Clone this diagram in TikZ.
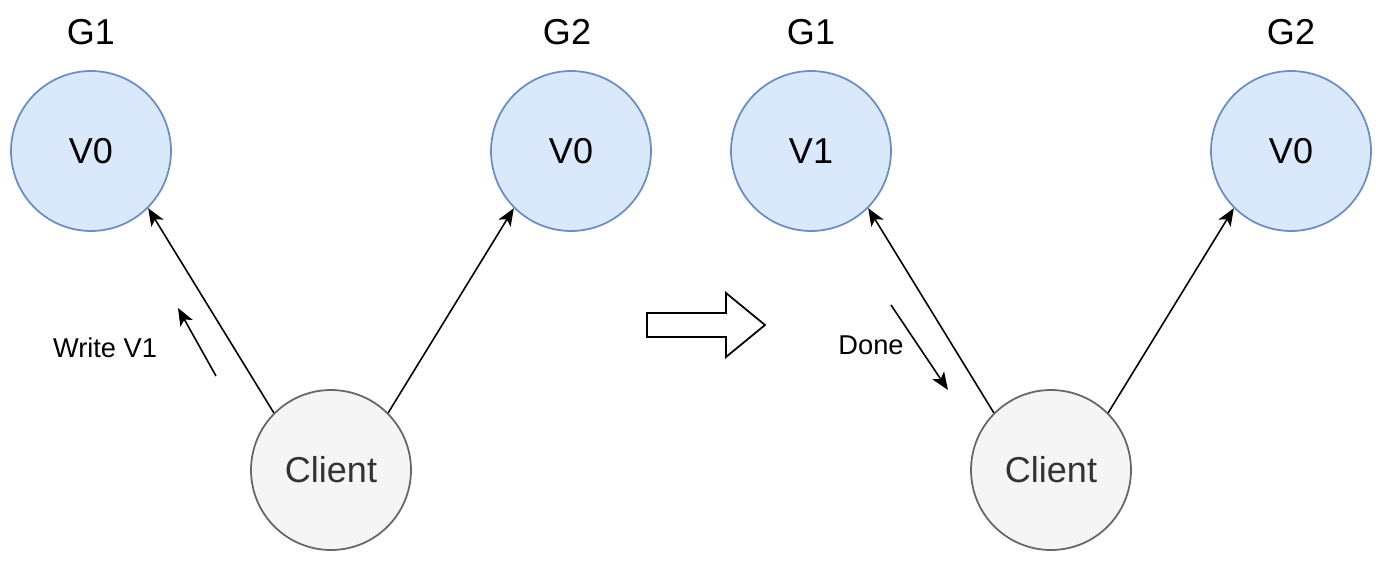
\documentclass[tikz,border=0pt]{standalone}
\usepackage{fontspec}
\setmainfont{Liberation Sans}
\usetikzlibrary{arrows.meta, positioning}
\definecolor{gfill}{HTML}{DAE8FC}
\definecolor{gline}{HTML}{6C8EBF}
\definecolor{cfill}{HTML}{F5F5F5}
\definecolor{cline}{HTML}{666666}
\definecolor{ctext}{HTML}{333333}
\tikzset{
    server/.style={circle, draw=gline, fill=gfill, line width=1pt, minimum size=3.2cm, inner sep=0pt, font=\fontsize{20.5}{24}\selectfont},
    client/.style={circle, draw=cline, fill=cfill, line width=1pt, minimum size=3.2cm, inner sep=0pt, text=ctext, font=\fontsize{20.5}{24}\selectfont},
    gname/.style={font=\fontsize{20.5}{24}\selectfont},
    note/.style={font=\fontsize{15.5}{18}\selectfont},
    msg/.style={-{Stealth[length=10pt,width=8pt,inset=2.5pt]}, line width=0.9pt}
}
\begin{document}
\begin{tikzpicture}[x=0.02cm, y=-0.02cm]
    \useasboundingbox (0,0) rectangle (1386,562);
    % before the write
    \node[server] (ag1) at (91,151) {V0};
    \node[server] (ag2) at (571,151) {V0};
    \node[client] (acl) at (331,470) {Client};
    \node[gname] (ag1n) at (91,32) {G1};
    \node[gname] (ag2n) at (567,32) {G2};
    \coordinate (aw0) at (216,376);
    \coordinate (aw1) at (178,308);
    \node[note] (aw) at (105,348) {Write V1};

    \path[msg]
    (acl.135) edge (ag1.-45)
    (acl.45) edge (ag2.225)
    (aw0) edge (aw1);

    % hollow arrow
    \draw[line width=1pt, fill=white] (647,313) -- (726,313) -- (726,293) -- (765,325)
        -- (726,357) -- (726,337) -- (647,337) -- cycle;

    % after the write
    \node[server] (bg1) at (811,151) {V1};
    \node[server] (bg2) at (1291,151) {V0};
    \node[client] (bcl) at (1051,470) {Client};
    \node[gname] (bg1n) at (811,32) {G1};
    \node[gname] (bg2n) at (1291,32) {G2};
    \coordinate (bd0) at (891,305);
    \coordinate (bd1) at (948,390);
    \node[note] (bd) at (871,345) {Done};

    \path[msg]
    (bcl.135) edge (bg1.-45)
    (bcl.45) edge (bg2.225)
    (bd0) edge (bd1);
\end{tikzpicture}
\end{document}
